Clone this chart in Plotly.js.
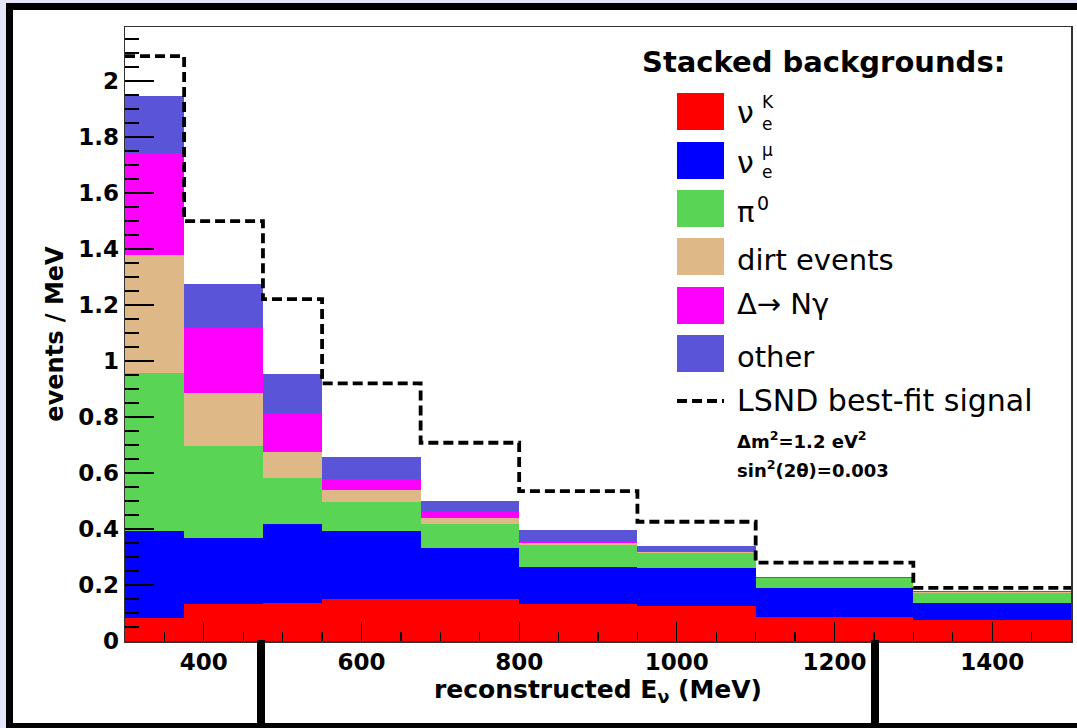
<!DOCTYPE html>
<html><head><meta charset="utf-8">
<script src="https://cdn.plot.ly/plotly-3.0.1.min.js"></script>
<style>
html,body{margin:0;padding:0;background:#fff;}
#wrap{position:relative;width:1077px;height:728px;overflow:hidden;background:#fff;}
#chart{position:absolute;left:0;top:0;width:1077px;height:728px;}
.deco{position:absolute;pointer-events:none;}
</style></head><body>
<div id="wrap"><div id="chart"></div>
<div class="deco" style="left:0;top:0;width:6px;height:728px;background:#e6e6fa"></div>
<div class="deco" style="left:0;top:0;width:1077px;height:3px;background:#e6e6fa"></div>
<div class="deco" style="left:6px;top:3px;width:7px;height:725px;background:#000"></div>
<div class="deco" style="left:6px;top:3px;width:1071px;height:7px;background:#000"></div>
<div class="deco" style="left:6px;top:723px;width:1071px;height:5px;background:#000"></div>
<div class="deco" style="left:257px;top:640px;width:8px;height:88px;background:#000"></div>
<div class="deco" style="left:871px;top:640px;width:8px;height:88px;background:#000"></div>
</div>
<script>
// ---- data (events / MeV per reconstructed-energy bin) ----
const binEdges = [300, 375, 475, 550, 675, 800, 950, 1100, 1300, 1500];
const nueK      = [0.081, 0.131, 0.135, 0.150, 0.150, 0.132, 0.126, 0.085, 0.075];
const nueMu     = [0.311, 0.236, 0.283, 0.243, 0.181, 0.133, 0.134, 0.103, 0.060];
const pi0       = [0.566, 0.331, 0.165, 0.103, 0.087, 0.078, 0.055, 0.036, 0.038];
const dirt      = [0.421, 0.187, 0.091, 0.045, 0.020, 0.008, 0.004, 0.001, 0.001];
const deltaNg   = [0.363, 0.232, 0.139, 0.037, 0.022, 0.005, 0.004, 0.001, 0.001];
const other     = [0.206, 0.158, 0.140, 0.080, 0.041, 0.040, 0.018, 0.002, 0.003];
const lsndSignal= [2.089, 1.500, 1.221, 0.920, 0.708, 0.535, 0.426, 0.280, 0.190];

const seriesNames = ['ν_e^K', 'ν_e^μ', 'π0', 'dirt events', 'Δ→ Nγ', 'other'];
const seriesColors = ['#ff0000', '#0000ff', '#59d454', '#deb887', '#ff00ff', '#5954d8'];
const seriesValues = [nueK, nueMu, pi0, dirt, deltaNg, other];

const centers = binEdges.slice(0, -1).map((e, i) => (e + binEdges[i + 1]) / 2);
const widths  = binEdges.slice(0, -1).map((e, i) => binEdges[i + 1] - e);

const traces = seriesValues.map((vals, k) => ({
  type: 'bar', x: centers, y: vals, width: widths,
  name: seriesNames[k],
  marker: {color: seriesColors[k], line: {width: 0}},
  hoverinfo: 'skip'
}));
traces.push({
  type: 'scatter', mode: 'lines', name: 'LSND best-fit signal',
  x: binEdges, y: lsndSignal.concat([lsndSignal[lsndSignal.length - 1]]),
  line: {shape: 'hv', color: '#000', width: 3.8, dash: '10px,5px'},
  hoverinfo: 'skip'
});

// ---- layout geometry (pixels) ----
const L = 125, R = 1071, T = 27, B = 641;
const W = R - L, H = B - T;
const px = x => (x - L) / W;
const py = y => (B - y) / H;

const FF = 'DejaVu Sans';
const shapes = [];
const annotations = [];
function ann(x, yc, text, size, extra) {
  annotations.push(Object.assign({
    xref: 'paper', yref: 'paper', x: px(x), y: py(yc), xanchor: 'left', yanchor: 'middle',
    text: text, showarrow: false, borderpad: 0,
    font: {family: FF, size: size, color: '#000'}
  }, extra || {}));
}
// header
ann(641, 62, '<b>Stacked backgrounds:</b>', 29);
// colour boxes
const boxTops = [93, 142, 190, 238, 287, 335];
boxTops.forEach((t, k) => {
  shapes.push({type: 'rect', xref: 'paper', yref: 'paper',
    x0: px(677), x1: px(724), y0: py(t + 37), y1: py(t),
    fillcolor: seriesColors[k], line: {width: 0}});
});
// dashed legend line
shapes.push({type: 'line', xref: 'paper', yref: 'paper',
  x0: px(677), x1: px(724), y0: py(401), y1: py(401),
  line: {color: '#000', width: 3.8, dash: '10px,5px'}});
// labels
ann(736, 113, 'ν', 30);
ann(761, 102, 'K', 17);
ann(761, 124, 'e', 17);
ann(736, 162, 'ν', 30);
ann(761, 150, 'μ', 17);
ann(761, 172, 'e', 17);
ann(736, 212, 'π', 29);
ann(756, 203, '0', 19);
ann(736, 260, 'dirt events', 29);
ann(736, 304, 'Δ→ Nγ', 29);
ann(736, 357, 'other', 29);
ann(736, 400, 'LSND best-fit signal', 30);
ann(736, 440, '<b>Δm<sup>2</sup>=1.2 eV<sup>2</sup></b>', 18);
ann(736, 469, '<b>sin<sup>2</sup>(2θ)=0.003</b>', 18);

const tickFont = {family: FF, size: 23, color: '#000', weight: 'bold'};
const layout = {
  width: 1077, height: 728,
  margin: {l: L, r: 1077 - R, t: T, b: 728 - B},
  paper_bgcolor: '#fff', plot_bgcolor: '#fff',
  barmode: 'stack', showlegend: false, hovermode: false,
  xaxis: {
    range: [300, 1500], tick0: 0, dtick: 200, ticks: 'inside', ticklen: 19,
    tickwidth: 1.3, tickcolor: '#000', showline: true, linecolor: '#333', linewidth: 1.5,
    mirror: true, showgrid: false, zeroline: false, tickfont: tickFont,
    minor: {tick0: 0, dtick: 50, ticks: 'inside', ticklen: 9, tickwidth: 1.3, tickcolor: '#000', showgrid: false},
    title: {text: 'reconstructed E<sub>ν</sub> (MeV)', font: {family: FF, size: 25, color: '#000', weight: 'bold'}, standoff: 6}
  },
  yaxis: {
    range: [0, 2.193], tick0: 0, dtick: 0.2, ticks: 'inside', ticklen: 29,
    tickwidth: 1.3, tickcolor: '#000', showline: true, linecolor: '#333', linewidth: 1.5,
    mirror: true, showgrid: false, zeroline: false, tickfont: tickFont,
    minor: {tick0: 0, dtick: 0.05, ticks: 'inside', ticklen: 14, tickwidth: 1.3, tickcolor: '#000', showgrid: false},
    title: {text: 'events / MeV', font: {family: FF, size: 24, color: '#000', weight: 'bold'}, standoff: 8}
  },
  shapes: shapes,
  annotations: annotations
};
Plotly.newPlot('chart', traces, layout, {staticPlot: true, displayModeBar: false});
</script>
</body></html>
